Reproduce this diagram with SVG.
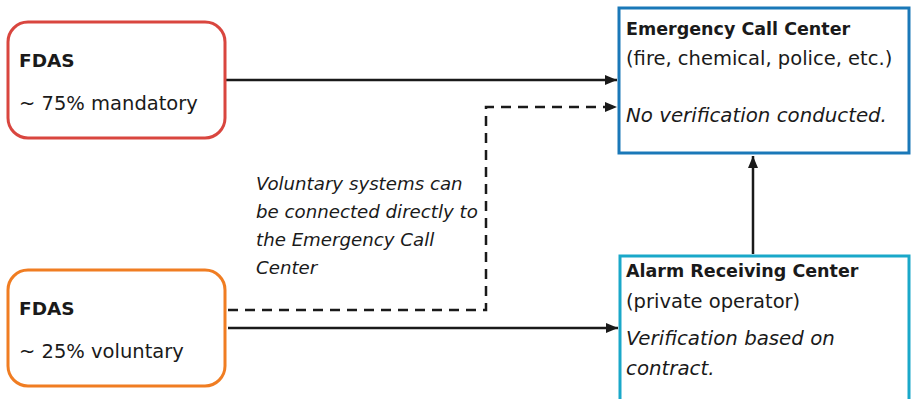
<svg xmlns="http://www.w3.org/2000/svg" width="912" height="399" viewBox="0 0 912 399">
<defs>
<marker id="arr" viewBox="0 0 12 10" refX="12" refY="5" markerWidth="12" markerHeight="10" markerUnits="userSpaceOnUse" orient="auto">
<path d="M0,0 L12,5 L0,10 Z" fill="#1a1a1a"/>
</marker>
<style>
text{font-family:"DejaVu Sans",sans-serif;font-size:19.5px;fill:#1a1a1a}
.b{font-weight:bold;font-size:17.5px}
.f{font-weight:bold;font-size:18.5px}
.i{font-style:italic;font-size:19.8px}
.n{font-style:italic;font-size:18.2px}
.ln{fill:none;stroke:#1a1a1a;stroke-width:2.5}
.dash{stroke-dasharray:10 7}
</style>
</defs>
<rect width="912" height="399" fill="#ffffff"/>
<g id="connectors">
<line class="ln" x1="226" y1="80" x2="617" y2="80" marker-end="url(#arr)"/>
<polyline class="ln dash" points="228,310 486,310 486,107 617,107" marker-end="url(#arr)"/>
<line class="ln" x1="228" y1="328" x2="618" y2="328" marker-end="url(#arr)"/>
<line class="ln" x1="753" y1="254" x2="753" y2="156" marker-end="url(#arr)"/>
</g>
<g id="fdas-mandatory">
<rect x="8" y="22" width="217" height="116" rx="20" fill="#fff" stroke="#d9463f" stroke-width="3"/>
<text x="19" y="67" class="f">FDAS</text>
<text x="19" y="110">~ 75% mandatory</text>
</g>
<g id="fdas-voluntary">
<rect x="8" y="270" width="217" height="116" rx="20" fill="#fff" stroke="#f07d22" stroke-width="3"/>
<text x="19" y="315" class="f">FDAS</text>
<text x="19" y="358">~ 25% voluntary</text>
</g>
<g id="note">
<text x="256" y="190" class="n">Voluntary systems can</text>
<text x="256" y="218" class="n">be connected directly to</text>
<text x="256" y="246" class="n">the Emergency Call</text>
<text x="256" y="274" class="n">Center</text>
</g>
<g id="ecc">
<rect x="619" y="8" width="290" height="145" fill="#fff" stroke="#1a78b8" stroke-width="3"/>
<text x="626" y="35" class="b">Emergency Call Center</text>
<text x="626" y="65">(fire, chemical, police, etc.)</text>
<text x="626" y="122" class="i">No verification conducted.</text>
</g>
<g id="arc">
<rect x="620" y="256" width="289" height="160" fill="#fff" stroke="#1aa8c9" stroke-width="3"/>
<text x="626" y="277" class="b">Alarm Receiving Center</text>
<text x="626" y="308">(private operator)</text>
<text x="626" y="345" class="i">Verification based on</text>
<text x="626" y="375" class="i">contract.</text>
</g>
</svg>
